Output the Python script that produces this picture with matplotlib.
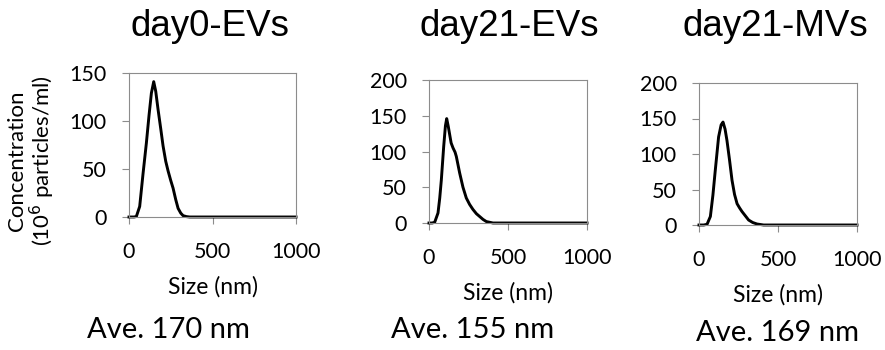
import matplotlib
matplotlib.use("Agg")
import matplotlib.pyplot as plt
import numpy as np

titles = ["day0-EVs", "day21-EVs", "day21-MVs"]
averages = ["Ave. 170 nm", "Ave. 155 nm", "Ave. 169 nm"]
ymaxes = [150, 200, 200]
yticks = [[0, 50, 100, 150], [0, 50, 100, 150, 200], [0, 50, 100, 150, 200]]

size_d0 = [0, 30, 44, 64, 84, 104, 120, 134, 148, 160, 174, 190, 204, 220, 234, 250, 264, 280, 294, 310, 324, 344, 364, 400, 500, 700, 1000]
conc_d0 = [0, 0, 0.5, 11, 45, 77, 106, 129, 141, 131, 112, 92, 74, 58, 48, 38, 30, 18, 9, 4, 1.4, 0.4, 0, 0, 0, 0, 0]

size_d21ev = [0, 20, 36, 57, 68, 78, 93, 104, 112, 122, 140, 152, 165, 173, 194, 215, 236, 257, 278, 300, 321, 342, 363, 405, 500, 700, 1000]
conc_d21ev = [0, 0, 1, 14, 35, 60, 107, 136, 146, 135, 112, 105, 99, 93, 70, 50, 35, 26, 19, 13, 9, 5, 2, 0, 0, 0, 0]

size_d21mv = [0, 30, 51, 72, 88, 103, 124, 140, 152, 165, 177, 193, 209, 225, 241, 257, 272, 293, 314, 340, 367, 409, 500, 700, 1000]
conc_d21mv = [0, 0, 1, 12, 42, 77, 124, 141, 145, 135, 119, 92, 63, 43, 30, 24, 19, 13, 7, 3.5, 1.4, 0, 0, 0, 0]

sizes = [size_d0, size_d21ev, size_d21mv]
concs = [conc_d0, conc_d21ev, conc_d21mv]

W, H = 885, 350
fig = plt.figure(figsize=(W / 100, H / 100), dpi=100)

boxes = [(129, 73, 296, 217), (429, 80, 587, 223), (699, 83, 857, 225)]
title_pos = [(210, 27), (509, 27), (775, 27)]
ave_pos = [(168, 330), (473, 330), (777, 333)]

tick_font = "Lato"
for i in range(3):
    l, t, r, b = boxes[i]
    ax = fig.add_axes([l / W, 1 - b / H, (r - l) / W, (b - t) / H])
    ax.plot(sizes[i], concs[i], color="black", lw=2.1, solid_joinstyle="round", clip_on=False)
    ax.set_xlim(0, 1000)
    ax.set_ylim(0, ymaxes[i])
    ax.set_xticks([0, 500, 1000])
    ax.set_yticks(yticks[i])
    for s in ax.spines.values():
        s.set_color("#8c8c8c")
        s.set_linewidth(0.8)
    ax.tick_params(axis="both", direction="out", length=5, width=0.8, color="#8c8c8c",
                   labelsize=15.5)
    ax.tick_params(axis="y", pad=11)
    ax.tick_params(axis="x", pad=13)
    for lab in ax.get_xticklabels() + ax.get_yticklabels():
        lab.set_fontfamily(tick_font)
    ax.set_xlabel("Size (nm)", fontsize=16.5, fontfamily=tick_font, labelpad=10)
    fig.text(title_pos[i][0] / W, 1 - title_pos[i][1] / H, titles[i], fontsize=26.5,
             fontfamily="Liberation Sans", ha="center", va="center")
    fig.text(ave_pos[i][0] / W, 1 - ave_pos[i][1] / H, averages[i], fontsize=21,
             fontfamily=tick_font, ha="center", va="center")

fig.text(32 / W, 1 - 161 / H, "Concentration\n(10$^{6}$ particles/ml)", fontsize=16,
         fontfamily=tick_font, rotation=90, ha="center", va="center",
         multialignment="center", linespacing=1.05)

fig.savefig("out.png", dpi=100)
